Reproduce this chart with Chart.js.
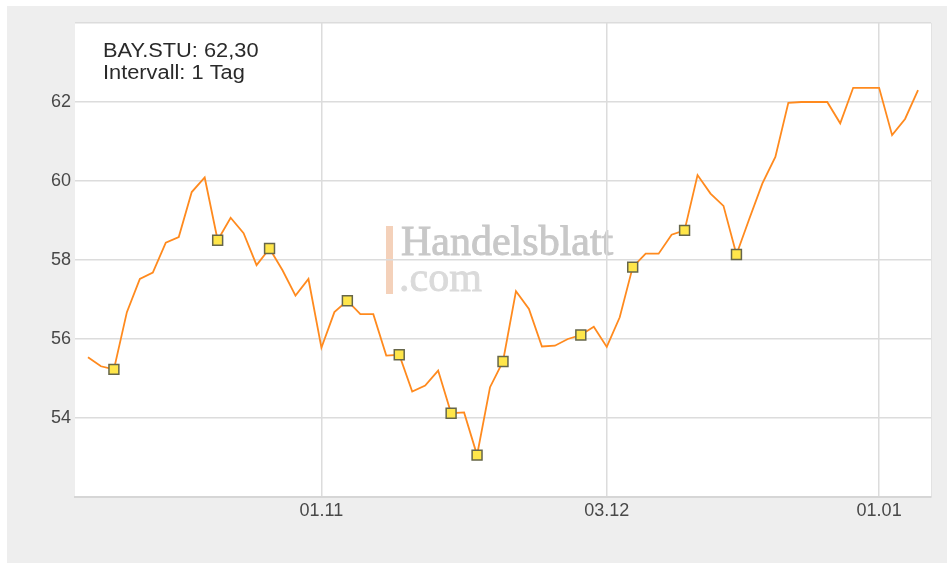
<!DOCTYPE html>
<html>
<head>
<meta charset="utf-8">
<script src="https://cdn.jsdelivr.net/npm/chart.js@4/dist/chart.umd.min.js"></script>
<style>
  body { margin: 0; background: #fff; }
  canvas { display: block; }
</style>
</head>
<body>
<canvas id="kursChart" width="947" height="563"></canvas>
<script>
// Handelstage 08.10. - 04.01.
var dates = [
    '08.10', '09.10', '10.10', '11.10', '12.10', '15.10', '16.10', '17.10', '18.10', '19.10',
    '22.10', '23.10', '24.10', '25.10', '26.10', '29.10', '30.10', '31.10',
    '01.11', '02.11', '05.11', '06.11', '07.11', '08.11', '09.11', '12.11', '13.11', '14.11',
    '15.11', '16.11', '19.11', '20.11', '21.11', '22.11', '23.11', '26.11', '27.11', '28.11',
    '29.11', '30.11',
    '03.12', '04.12', '05.12', '06.12', '07.12', '10.12', '11.12', '12.12', '13.12', '14.12',
    '17.12', '18.12', '19.12', '20.12', '21.12', '24.12', '25.12', '26.12', '27.12', '28.12',
    '31.12',
    '01.01', '02.01', '03.01', '04.01'
];

var prices = [
    55.54, 55.31, 55.23, 56.68, 57.52, 57.68, 58.44, 58.58, 59.72, 60.09,
    58.50, 59.07, 58.68, 57.87, 58.29, 57.74, 57.10, 57.52, 55.78, 56.68,
    56.97, 56.63, 56.63, 55.58, 55.60, 54.67, 54.82, 55.20, 54.12, 54.14,
    53.06, 54.78, 55.43, 57.21, 56.76, 55.81, 55.83, 56.00, 56.10, 56.31,
    55.80, 56.55, 57.82, 58.16, 58.16, 58.64, 58.75, 60.15, 59.68, 59.37,
    58.14, 59.05, 59.94, 60.61, 61.98, 62.00, 62.00, 62.00, 61.46, 62.36,
    62.36, 62.36, 61.16, 61.57, 62.30
];

// Tage mit Nachrichten-Markierung
var markerIdx = [2, 10, 14, 20, 24, 28, 30, 32, 38, 42, 46, 50];

var tickDates = ['01.11', '03.12', '01.01'];
var yLabels = [54, 56, 58, 60, 62];

var infoLines = ['BAY.STU: 62,30', 'Intervall: 1 Tag'];

var backgroundPlugin = {
    id: 'background',
    beforeDraw: function(chart) {
        var ctx = chart.ctx;
        var area = chart.chartArea;
        ctx.save();
        ctx.fillStyle = '#ffffff';
        ctx.fillRect(0, 0, chart.width, chart.height);
        ctx.fillStyle = '#eeeeee';
        ctx.fillRect(7, 6, chart.width - 7, chart.height - 6);
        ctx.fillStyle = '#ffffff';
        ctx.fillRect(area.left, area.top, area.right - area.left, area.bottom - area.top);
        ctx.strokeStyle = '#e2e2e2';
        ctx.lineWidth = 1;
        ctx.beginPath();
        ctx.moveTo(area.right + 0.5, area.top);
        ctx.lineTo(area.right + 0.5, area.bottom);
        ctx.stroke();

        // Wasserzeichen
        ctx.fillStyle = 'rgba(236, 178, 140, 0.6)';
        ctx.fillRect(386, 226, 7, 68);
        ctx.textBaseline = 'alphabetic';
        ctx.textAlign = 'left';
        ctx.font = '42px "Liberation Serif"';
        ctx.lineWidth = 0.9;
        ctx.fillStyle = '#c8c8c8';
        ctx.strokeStyle = '#c8c8c8';
        ctx.fillText('Handelsblatt', 401, 255);
        ctx.strokeText('Handelsblatt', 401, 255);
        ctx.fillStyle = '#dadada';
        ctx.strokeStyle = '#dadada';
        ctx.fillText('.com', 399, 291);
        ctx.strokeText('.com', 399, 291);
        ctx.restore();
    },
    afterDraw: function(chart) {
        var ctx = chart.ctx;
        ctx.save();
        ctx.fillStyle = '#2a2a2a';
        ctx.font = '20px "Liberation Sans"';
        ctx.textBaseline = 'alphabetic';
        ctx.translate(103, 0);
        ctx.scale(1.09, 1);
        ctx.fillText(infoLines[0], 0, 57);
        ctx.fillText(infoLines[1], 0, 79);
        ctx.restore();
    }
};

var ctxKurs = document.getElementById('kursChart').getContext('2d');
var kursChart = new Chart(ctxKurs, {
    type: 'line',
    data: {
        datasets: [{
            data: prices.map((p, i) => ({ x: i, y: p })),
            borderColor: '#ff8a1e',
            borderWidth: 1.8,
            tension: 0,
            pointStyle: 'rect',
            pointRadius: c => markerIdx.includes(c.dataIndex) ? 7 : 0,
            pointHoverRadius: 0,
            pointBackgroundColor: '#ffe64a',
            pointBorderColor: '#66664a',
            pointBorderWidth: 1.5
        }]
    },
    options: {
        responsive: false,
        animation: false,
        layout: {
            padding: { top: 23, right: 16, left: 0, bottom: 0 }
        },
        plugins: {
            legend: { display: false },
            tooltip: { enabled: false }
        },
        scales: {
            x: {
                type: 'linear',
                min: -1,
                max: dates.length,
                afterBuildTicks: function(scale) {
                    scale.ticks = tickDates.map(d => ({ value: dates.indexOf(d) }));
                },
                afterFit: function(scale) {
                    scale.height = 66;
                },
                ticks: {
                    autoSkip: false,
                    maxRotation: 0,
                    padding: 3,
                    color: '#484848',
                    font: { family: '"Liberation Sans"', size: 18 },
                    callback: value => dates[value]
                },
                grid: {
                    color: '#dcdcdc',
                    lineWidth: 1.5,
                    drawTicks: false
                },
                border: { color: '#d6d6d6', width: 2 }
            },
            y: {
                min: 52,
                max: 64,
                afterFit: function(scale) {
                    scale.width = 75;
                },
                ticks: {
                    stepSize: 2,
                    padding: 4,
                    color: '#484848',
                    font: { family: '"Liberation Sans"', size: 18 },
                    callback: value => yLabels.includes(value) ? value : ''
                },
                grid: {
                    color: '#dcdcdc',
                    lineWidth: 1.5,
                    drawTicks: false
                },
                border: { display: false }
            }
        }
    },
    plugins: [backgroundPlugin]
});
</script>
</body>
</html>
